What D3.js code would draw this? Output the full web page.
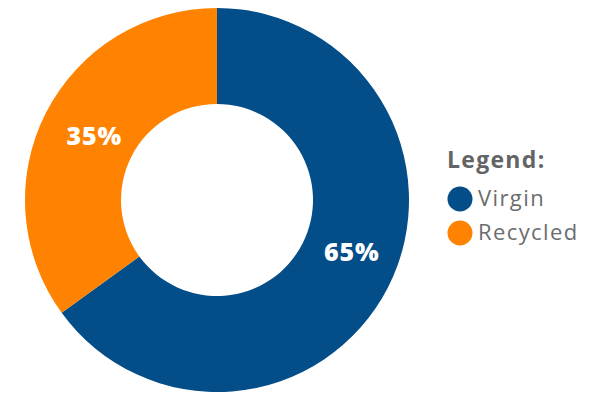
<!DOCTYPE html>
<html>
<head>
<meta charset="utf-8">
<script src="https://cdn.jsdelivr.net/npm/d3@7"></script>
<style>
  body { margin: 0; background: #fff; }
  svg { display: block; }
</style>
</head>
<body>
<script>
const w = 597;
const h = 393;

// data
const categories = ['Virgin', 'Recycled'];
const values = [65, 35];
const colors = ['#034d89', '#ff8300'];

const cx = 217;
const cy = 200;
const outerR = 192;
const innerR = 96;

const svg = d3.select('body').append('svg')
  .attr('width', w)
  .attr('height', h);

const color = d3.scaleOrdinal().domain(categories).range(colors);

const pie = d3.pie().sort(null).value(d => d.value);
const arcs = pie(categories.map((c, i) => ({ name: c, value: values[i] })));

const arc = d3.arc().innerRadius(innerR).outerRadius(outerR);
const labelArc = d3.arc().innerRadius(140).outerRadius(140);

// small nudge so the big label sits a bit higher, like the original
const nudge = { Virgin: [10, -12], Recycled: [2, 0] };

const g = svg.append('g').attr('transform', `translate(${cx},${cy})`);

g.selectAll('path')
  .data(arcs)
  .enter()
  .append('path')
  .attr('d', arc)
  .attr('fill', d => color(d.data.name));

g.selectAll('text')
  .data(arcs)
  .enter()
  .append('text')
  .attr('transform', d => {
    const [x, y] = labelArc.centroid(d);
    const n = nudge[d.data.name];
    return `translate(${x + n[0]},${y + n[1]})`;
  })
  .attr('text-anchor', 'middle')
  .attr('dy', '0.36em')
  .style('font-family', '"Open Sans", sans-serif')
  .style('font-weight', 800)
  .style('font-size', '25px')
  .style('letter-spacing', '0.8px')
  .style('fill', '#fff')
  .text(d => d.data.value + '%');

// legend
const legend = svg.append('g').attr('transform', 'translate(447,0)');

legend.append('text')
  .attr('x', 0)
  .attr('y', 168)
  .style('font-family', '"Open Sans", sans-serif')
  .style('font-weight', 700)
  .style('font-size', '23px')
  .style('letter-spacing', '1.3px')
  .style('fill', '#636466')
  .text('Legend:');

const item = legend.selectAll('g.item')
  .data(categories)
  .enter()
  .append('g')
  .attr('class', 'item')
  .attr('transform', (d, i) => `translate(0,${199 + i * 34})`);

item.append('circle')
  .attr('cx', 13)
  .attr('cy', 0)
  .attr('r', 12.5)
  .attr('fill', d => color(d));

item.append('text')
  .attr('x', 31)
  .attr('y', 7)
  .style('font-family', '"Open Sans", sans-serif')
  .style('font-weight', 400)
  .style('font-size', '22px')
  .style('letter-spacing', '1.4px')
  .style('fill', '#6b6c6e')
  .text(d => d);
</script>
</body>
</html>
